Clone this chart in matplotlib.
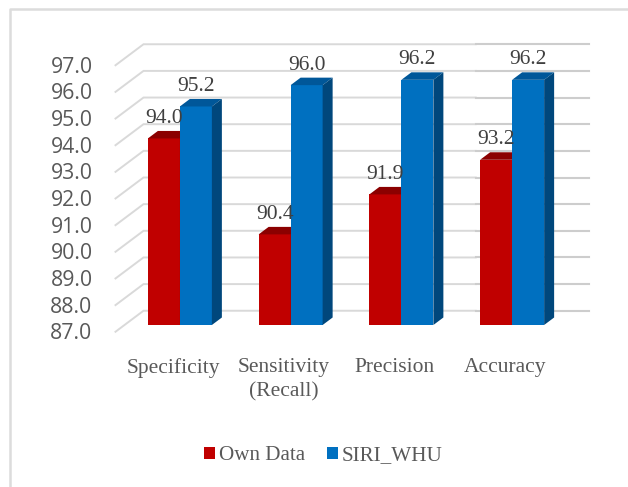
import matplotlib
matplotlib.use('Agg')
import matplotlib.pyplot as plt
from matplotlib.lines import Line2D
from matplotlib.patches import Patch, Polygon

# Data
categories = ['Specificity', 'Sensitivity\n(Recall)', 'Precision', 'Accuracy']
own_data = [94.0, 90.4, 91.9, 93.2]
siri_whu = [95.2, 96.0, 96.2, 96.2]
y_ticks = [87, 88, 89, 90, 91, 92, 93, 94, 95, 96, 97]

# Colours: front, top, side
red_colors = ['#C00000', '#8B0000', '#8B0000']
blue_colors = ['#0070C0', '#005799', '#00477C']
grid_color = '#D9D9D9'
grid_color_right = '#CDCDCD'
frame_color = '#DCDCDC'
text_color = '#595959'
label_color = '#404040'

W, H = 628, 487
left, bottom, width, height = 124.5, 162, 443, 266.5
bar_w = 32 / 110.75


def depth(x, v, d):
    # Fake 3D: shift a point of the front plane back by d pixels
    return x + d / (width / 4), v + 0.75 * d / (height / 10)


def draw_bar(ax, x0, value, colors, z):
    x1 = x0 + bar_w
    front = [(x0, 87), (x1, 87), (x1, value), (x0, value)]
    top = [(x0, value), (x1, value), depth(x1, value, 10), depth(x0, value, 10)]
    side = [(x1, 87), depth(x1, 87, 10), depth(x1, value, 10), (x1, value)]
    for pts, c in zip([front, top, side], colors):
        ax.add_patch(Polygon(pts, closed=True, facecolor=c, edgecolor='none',
                             clip_on=False, zorder=z))


fig = plt.figure(figsize=(W / 100, H / 100), dpi=100, facecolor='white')
ax = fig.add_axes([left / W, bottom / H, width / W, height / H])
ax.set_xlim(0, 4)
ax.set_ylim(87, 97)
ax.axis('off')

# Chart frame
fig.add_artist(Line2D([9.5 / W, 9.5 / W, 1], [0, 1 - 8.5 / H, 1 - 8.5 / H],
                      color=frame_color, lw=1.8))

# Gridlines: side wall and back wall
for v in y_ticks:
    p0 = depth(0, v, -9)
    p1 = depth(0, v, 19)
    p2 = depth(3, v, 19)
    p3 = depth(4.02, v, 19)
    ax.plot([p0[0], p1[0], p2[0]], [p0[1], p1[1], p2[1]], color=grid_color,
            lw=1.4, clip_on=False, zorder=1, solid_joinstyle='miter')
    ax.plot([p2[0], p3[0]], [p2[1], p3[1]], color=grid_color_right,
            lw=1.5, clip_on=False, zorder=1)
    ax.annotate(f'{v:.1f}', xy=p0, xytext=(-23, -2), textcoords='offset pixels',
                ha='right', va='center', family='Open Sans', fontsize=15.3,
                color=text_color, annotation_clip=False)

# Bars
for i in range(len(categories)):
    x_red = i + 0.5 - bar_w
    x_blue = i + 0.5
    draw_bar(ax, x_red, own_data[i], red_colors, 2)
    draw_bar(ax, x_blue, siri_whu[i], blue_colors, 3)
    for x0, value in [(x_red, own_data[i]), (x_blue, siri_whu[i])]:
        ax.annotate(f'{value:.1f}', xy=(x0 + bar_w / 2, value), xytext=(0, 20),
                    textcoords='offset pixels', ha='center', va='center',
                    family='Liberation Serif', fontsize=15.5, color=label_color,
                    annotation_clip=False, zorder=5)
    ax.annotate(categories[i], xy=(i + 0.5, 87), xytext=(-7, -33),
                textcoords='offset pixels', ha='center', va='top',
                family='Liberation Serif', fontsize=15.5, color=text_color,
                linespacing=1.4, annotation_clip=False)

# Legend
handles = [Patch(facecolor=red_colors[0], label='Own Data'),
           Patch(facecolor=blue_colors[0], label='SIRI_WHU')]
fig.legend(handles=handles, loc='center', bbox_to_anchor=(323.5 / W, 1 - 456 / H),
           ncol=2, frameon=False, borderpad=0, handlelength=0.5, handleheight=0.5,
           handletextpad=0.2, columnspacing=1.05, labelcolor=text_color,
           prop={'family': 'Liberation Serif', 'size': 15.2})

fig.savefig('out.png', dpi=100)
